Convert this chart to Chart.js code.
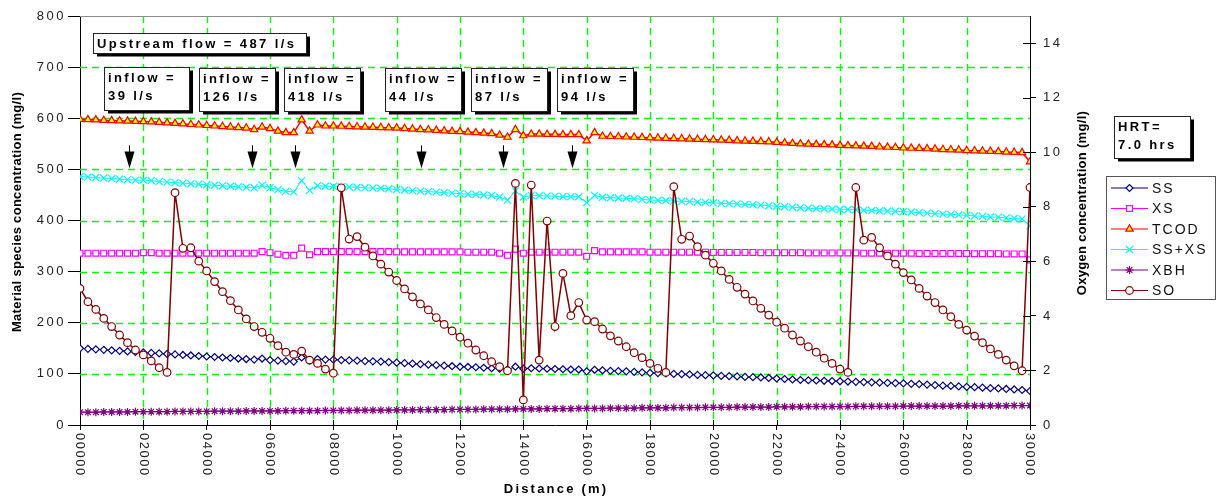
<!DOCTYPE html>
<html>
<head>
<meta charset="utf-8">
<script src="https://cdn.jsdelivr.net/npm/chart.js@4.4.0/dist/chart.umd.min.js"></script>
<style>
  html, body { margin: 0; padding: 0; background: #fff; }
  #wrap { width: 1217px; height: 499px; position: relative; }
</style>
</head>
<body>
<div id="wrap"><canvas id="chart"></canvas></div>
<script>
// distance along the sewer (m), one point every 250 m
const distance = [0,250,500,750,1000,1250,1500,1750,2000,2250,2500,2750,3000,3250,3500,3750,4000,4250,4500,4750,5000,5250,5500,5750,6000,6250,6500,6750,7000,7250,7500,7750,8000,8250,8500,8750,9000,9250,9500,9750,10000,10250,10500,10750,11000,11250,11500,11750,12000,12250,12500,12750,13000,13250,13500,13750,14000,14250,14500,14750,15000,15250,15500,15750,16000,16250,16500,16750,17000,17250,17500,17750,18000,18250,18500,18750,19000,19250,19500,19750,20000,20250,20500,20750,21000,21250,21500,21750,22000,22250,22500,22750,23000,23250,23500,23750,24000,24250,24500,24750,25000,25250,25500,25750,26000,26250,26500,26750,27000,27250,27500,27750,28000,28250,28500,28750,29000,29250,29500,29750,30000];

// mg/l, left axis
const ss = [150,149,148,147,146,145,144,143,142,
  141,140,139,138,137,136,135,134,
  133,132,131,130,129,128,130,127,
  126,125,124,132,126,129,128,128,
  127,126.5,126,125,124.5,124,123,122,
  121,120,119,118,117,116,115,114,
  113.5,113,112,111,110,108,114,110,111,110.5,110,109.5,109,108.5,108.5,105,108,107,106,105.5,105,104,103,102,
  101.5,101,100,99.5,99,98,97.5,97,96,95.5,95,94,93.5,93,92,91,90,89,88,
  87.5,87,86.5,86,85.5,85,84.5,84,83.5,83,82.5,82,81.5,
  80.5,80,79,78,77,76.5,75.5,74.5,74,73,72,71.5,70.5,69.5,68.5,66.5];

const xs = [336,336,336,336,336,336,336,336,337,337,336,336,336,336,336,336,336,336,336,336,336,336,336,
  339,337,334,332,332,346,333,
  339,339,339,339,339,339,339,339,339,339,338.5,338.5,338.5,338.5,338.5,338.5,338.5,338.5,338.5,338,338,338,338,
  336,332,344,336,338,338,338,338,338,338,338,330,341,
  338.5,338.5,338.5,338.5,338.5,338.5,338,338,338,338,338,338,338,338,
  337.5,337.5,337.5,337.5,337.5,337.5,337,337,337,337,337,337,
  336.5,336.5,336.5,336.5,336.5,336.5,336.5,336,336,336,336,336,336,336,
  335.5,335.5,335.5,335.5,335.5,335.5,335.5,335,335,335,335,334.5,334.5,334.5,323];

const tcod = [598,597.5,597,596,595.5,595,594.5,594,593.5,
  593,592,591,590,589,588,587,586,
  585,584,583,582,581,578,583,580,
  575,572,572,597,575,587,585,585,
  584.5,584,583.5,583,582.5,582,581.5,581,
  580,579,578,577.5,576.5,575.5,574.5,574,
  573,572,571,570,
  567,563,578,566,569,569,568.5,568.5,568,568,568,556,572,
  565,564.5,564,563.5,563,562.5,562,
  561.5,561,560.5,560,559.5,559,558.5,558,
  557.5,557,556,555.5,555,554.5,554,553,
  552,551,550,549.5,549,548.5,548,547,
  546.5,546,545.5,545,544,543.5,543,542,
  541.5,541,540.5,540,539,538.5,538,537,
  536.5,536,535.5,535,534,533.5,533,515];

const ssxs = [486,485,484,483,482,481,480,479,479,
  478,476,475,474,473,472,471,470,
  469,468,467,466,465,464,469,464,
  460,457,456,478,459,468,467,467,
  466,465.5,465,464,463.5,463,462,460.5,
  459.5,458.5,457.5,456.5,455.5,454.5,453.5,452.5,
  451.5,451,450,449,
  446,440,458,446,449,448.5,448,447.5,447,446.5,446.5,435,449,
  445.5,444.5,444,443.5,442.5,441.5,
  440,439.5,439,438,437.5,437,436,435.5,
  434.5,433.5,433,432.5,431.5,431,
  430,429,428,427,426,425,
  424,423.5,423,422.5,422,421.5,421,
  420,419.5,419,418.5,418,417.5,416.5,
  415.5,414.5,413.5,412.5,412,411,410,
  409,408,407,406.5,405,404,403,389.5];

const xbh = [25,25,25,25.5,25.5, 25.5,25.5,26,26,26, 26,26,26.5,26.5,26.5, 26.5,26.5,27,27,27,
  27,27.5,27.5,27.5,27.5, 27.5,28,28,28,28, 28,28.5,28.5,28.5,28.5, 29,29,29,29,29,
  29.5,29.5,29.5,30,30, 30,30,30.5,30.5,30.5, 30.5,31,31,31,31, 31.5,31.5,31.5,31.5,32,
  32,32,32,32.5,32.5, 32.5,32.5,33,33,33, 33,33.5,33.5,33.5,33.5, 34,34,34,34,34.5,
  34.5,34.5,34.5,35,35, 35,35,35,35.5,35.5, 35.5,35.5,36,36,36, 36,36,36,36.5,36.5,
  36.5,36.5,36.5,36.5,37, 37,37,37,37,37, 37,37.5,37.5,37.5,37.5, 37.5,37.5,37.5,38,38, 38];

// oxygen, mg/l, right axis
const so = [5.01,4.52,4.24,3.91,3.61,3.30,3.02,2.75,2.57,2.35,2.10,1.93,
  8.52,6.48,6.50,6.01,5.65,5.26,4.89,4.56,4.22,3.89,3.61,3.40,3.18,2.91,2.67,2.59,2.71,2.38,2.26,2.05,1.90,
  8.70,6.82,6.91,6.52,6.20,5.90,5.61,5.30,4.99,4.70,4.44,4.22,3.94,3.69,3.45,3.22,3.00,2.75,2.54,2.32,2.14,1.99,
  8.86,0.92,8.80,2.38,7.48,3.61,5.56,4.01,4.49,3.85,3.79,3.52,3.27,3.08,2.87,2.65,2.47,2.26,2.08,1.93,
  8.74,6.81,6.93,6.54,6.23,5.93,5.65,5.34,5.05,4.80,4.55,4.28,4.03,3.77,3.55,3.30,3.08,2.87,2.67,2.45,2.26,2.05,1.93,
  8.71,6.78,6.88,6.50,6.20,5.90,5.59,5.32,5.01,4.73,4.49,4.22,3.97,3.69,3.48,3.26,3.02,2.79,2.59,2.38,2.17,1.99,
  8.71];

const leftTicks = [0,100,200,300,400,500,600,700,800];
const oxyTicks = [0,2,4,6,8,10,12,14];
const distTicks = [0,2000,4000,6000,8000,10000,12000,14000,16000,18000,20000,22000,24000,26000,28000,30000];
const distTickLabels = ['00000','02000','04000','06000','08000','10000','12000','14000','16000','18000','20000','22000','24000','26000','28000','30000'];

// where the side inflows enter (m)
const inflowAt = [1557, 5431, 6780, 10768, 13367, 15546];

const notes = [
  { text: ['Upstream flow = 487 l/s'], x: 93, y: 33, w: 213, h: 20 },
  { text: ['inflow =', '39 l/s'], x: 104, y: 67, w: 85, h: 43 },
  { text: ['inflow =', '126 l/s'], x: 199, y: 68, w: 76, h: 43 },
  { text: ['inflow =', '418 l/s'], x: 284, y: 68, w: 76, h: 43 },
  { text: ['inflow =', '44 l/s'], x: 385, y: 68, w: 76, h: 43 },
  { text: ['inflow =', '87 l/s'], x: 471, y: 68, w: 76, h: 43 },
  { text: ['inflow =', '94 l/s'], x: 557, y: 68, w: 76, h: 43 },
  { text: ['HRT=', '7.0 hrs'], x: 1114, y: 116, w: 76, h: 42 }
];

const FONT = '"Liberation Sans", Arial, Helvetica, sans-serif';
const GREEN = '#00ff00';
const NONE = 'rgba(0,0,0,0)';

function series(label, values, color, style, radius, fill, axis, width, order) {
  return {
    label: label,
    yAxisID: axis,
    order: order,
    data: distance.map((d, i) => ({ x: d, y: values[i] })),
    borderColor: color,
    borderWidth: width,
    backgroundColor: fill,
    pointStyle: style,
    pointRadius: radius,
    pointBorderColor: color,
    pointBackgroundColor: fill,
    pointBorderWidth: 1.2,
    tension: 0,
    fill: false
  };
}

function drawMarker(ctx, ds, x, y) {
  ctx.fillStyle = ds.pointBackgroundColor;
  ctx.strokeStyle = ds.pointBorderColor;
  ctx.lineWidth = ds.pointBorderWidth;
  if (Chart.helpers && Chart.helpers.drawPoint) {
    Chart.helpers.drawPoint(ctx, { pointStyle: ds.pointStyle, radius: ds.pointRadius, rotation: 0, borderWidth: ds.pointBorderWidth }, x, y);
  } else {
    ctx.beginPath(); ctx.arc(x, y, ds.pointRadius, 0, Math.PI * 2); ctx.fill(); ctx.stroke();
  }
}

const decor = {
  id: 'decor',
  beforeDraw(chart) {
    chart.ctx.letterSpacing = '2.5px';
  },
  beforeDatasetsDraw(chart) {
    // green dashed grid, from the scales' own tick positions
    const { ctx, chartArea: a, scales } = chart;
    ctx.save();
    ctx.strokeStyle = GREEN;
    ctx.lineWidth = 1.4;
    ctx.setLineDash([7, 5]);
    ctx.beginPath();
    leftTicks.forEach(v => {
      if (v === 0 || v === 800) return;
      const y = Math.round(scales.y.getPixelForValue(v)) + 0.5;
      ctx.moveTo(a.left, y); ctx.lineTo(a.right, y);
    });
    ctx.stroke();
    ctx.beginPath();
    distTicks.forEach(v => {
      if (v === 0 || v === 30000) return;
      const x = Math.round(scales.x.getPixelForValue(v)) + 0.5;
      ctx.moveTo(x, a.top); ctx.lineTo(x, a.bottom);
    });
    ctx.stroke();
    ctx.restore();
  },
  afterDraw(chart) {
    const { ctx, chartArea: a, scales } = chart;
    const sx = scales.x, sy = scales.y, sy1 = scales.y1;
    ctx.save();

    // grey top frame
    ctx.strokeStyle = '#8c8c8c';
    ctx.lineWidth = 1;
    ctx.beginPath();
    ctx.moveTo(a.left, Math.round(a.top) + 0.5);
    ctx.lineTo(a.right, Math.round(a.top) + 0.5);
    ctx.stroke();

    // tick marks that cross into the plot
    ctx.strokeStyle = '#000';
    ctx.beginPath();
    oxyTicks.forEach(v => {
      const y = Math.round(sy1.getPixelForValue(v)) + 0.5;
      ctx.moveTo(a.right - 7, y); ctx.lineTo(a.right, y);
    });
    distTicks.forEach(v => {
      const x = Math.round(sx.getPixelForValue(v)) + 0.5;
      ctx.moveTo(x, a.bottom - 5); ctx.lineTo(x, a.bottom);
    });
    ctx.stroke();

    // distance labels, turned clockwise
    ctx.font = '13px ' + FONT;
    ctx.letterSpacing = '1.5px';
    ctx.fillStyle = '#222';
    ctx.textAlign = 'left';
    ctx.textBaseline = 'middle';
    distTicks.forEach((v, i) => {
      ctx.save();
      ctx.translate(sx.getPixelForValue(v), a.bottom + 8);
      ctx.rotate(Math.PI / 2);
      ctx.fillText(distTickLabels[i], 0, 0);
      ctx.restore();
    });

    // axis titles
    ctx.fillStyle = '#000';
    ctx.textAlign = 'center';
    ctx.font = 'bold 13px ' + FONT;
    ctx.letterSpacing = '0.3px';
    ctx.save(); ctx.translate(17, 212); ctx.rotate(-Math.PI / 2);
    ctx.fillText('Material species concentration (mg/l)', 0, 0); ctx.restore();
    ctx.save(); ctx.translate(1082, 203); ctx.rotate(-Math.PI / 2);
    ctx.fillText('Oxygen concentration (mg/l)', 0, 0); ctx.restore();
    ctx.letterSpacing = '2.2px';
    ctx.textBaseline = 'alphabetic';
    ctx.fillText('Distance (m)', 556, 493);

    // inflow arrows
    ctx.fillStyle = '#000';
    ctx.strokeStyle = '#000';
    ctx.lineWidth = 1;
    inflowAt.forEach(d => {
      const x = Math.round(sx.getPixelForValue(d)) + 0.5;
      const yTop = sy.getPixelForValue(547), yHead = sy.getPixelForValue(535), yTip = sy.getPixelForValue(502);
      ctx.beginPath(); ctx.moveTo(x, yTop); ctx.lineTo(x, yHead + 1); ctx.stroke();
      ctx.beginPath(); ctx.moveTo(x - 5, yHead); ctx.lineTo(x + 5, yHead); ctx.lineTo(x, yTip); ctx.closePath(); ctx.fill();
    });

    // text boxes with drop shadow
    ctx.font = 'bold 13px ' + FONT;
    ctx.letterSpacing = '2.4px';
    ctx.textAlign = 'left';
    notes.forEach(n => {
      ctx.fillStyle = '#000';
      ctx.fillRect(n.x + 4, n.y + 3.5, n.w, n.h);
      ctx.fillStyle = '#fff';
      ctx.fillRect(n.x, n.y, n.w, n.h);
      ctx.strokeStyle = '#222';
      ctx.strokeRect(n.x + 0.5, n.y + 0.5, n.w, n.h);
      ctx.fillStyle = '#000';
      n.text.forEach((t, k) => ctx.fillText(t, n.x + 4, n.y + 15 + k * 17.5));
    });

    // legend
    const lx = 1106, ly = 176, lw = 109, lh = 123;
    ctx.fillStyle = '#fff';
    ctx.fillRect(lx, ly, lw, lh);
    ctx.strokeStyle = '#555';
    ctx.strokeRect(lx + 0.5, ly + 0.5, lw, lh);
    ctx.font = '14px ' + FONT;
    ctx.letterSpacing = '2px';
    ctx.textBaseline = 'middle';
    chart.data.datasets.forEach((ds, k) => {
      const y = ly + 12 + k * 20.5;
      ctx.strokeStyle = ds.borderColor;
      ctx.lineWidth = 1.2;
      ctx.beginPath(); ctx.moveTo(1111, y); ctx.lineTo(1148, y); ctx.stroke();
      drawMarker(ctx, ds, 1129.5, y);
      ctx.fillStyle = '#111';
      ctx.fillText(ds.label, 1152, y + 1);
    });

    ctx.restore();
  }
};

new Chart(document.getElementById('chart'), {
  type: 'line',
  data: {
    datasets: [
      series('SS', ss, '#000080', 'rectRot', 3.5, '#ffffff', 'y', 1, 1),
      series('XS', xs, '#ff00ff', 'rect', 4.2, '#ffffff', 'y', 1, 1),
      series('TCOD', tcod, '#ff0000', 'triangle', 4.2, '#ffff00', 'y', 1.5, 1),
      series('SS+XS', ssxs, '#00ffff', 'crossRot', 5, '#00ffff', 'y', 1, 1),
      series('XBH', xbh, '#800080', 'star', 4, '#800080', 'y', 1, 1),
      series('SO', so, '#800000', 'circle', 3.8, '#ffffff', 'y1', 1.5, 0)
    ]
  },
  options: {
    responsive: true,
    maintainAspectRatio: false,
    animation: false,
    layout: { padding: { top: 16, left: 0, right: 0, bottom: 0 } },
    plugins: { legend: { display: false }, tooltip: { enabled: false } },
    scales: {
      x: {
        type: 'linear',
        position: 'bottom',
        min: 0,
        max: 30000,
        afterBuildTicks: s => { s.ticks = distTicks.map(v => ({ value: v })); },
        afterFit: s => { s.height = 74; },
        ticks: { display: false },
        grid: { color: NONE, tickLength: 5, tickColor: '#000' },
        border: { color: '#000', width: 1 }
      },
      y: {
        position: 'left',
        min: 0,
        max: 800,
        afterBuildTicks: s => { s.ticks = leftTicks.map(v => ({ value: v })); },
        afterFit: s => { s.width = 80; },
        ticks: { color: '#222', font: { family: FONT, size: 13 }, padding: 2 },
        grid: { color: NONE, tickLength: 12, tickColor: '#000' },
        border: { color: '#000', width: 1 }
      },
      y1: {
        position: 'right',
        min: 0,
        max: 15,
        afterBuildTicks: s => { s.ticks = oxyTicks.map(v => ({ value: v })); },
        afterFit: s => { s.width = 187; },
        ticks: { color: '#222', font: { family: FONT, size: 13 }, padding: 7 },
        grid: { drawOnChartArea: false, tickLength: 6, tickColor: '#000' },
        border: { color: '#000', width: 1 }
      }
    }
  },
  plugins: [decor]
});
</script>
</body>
</html>
